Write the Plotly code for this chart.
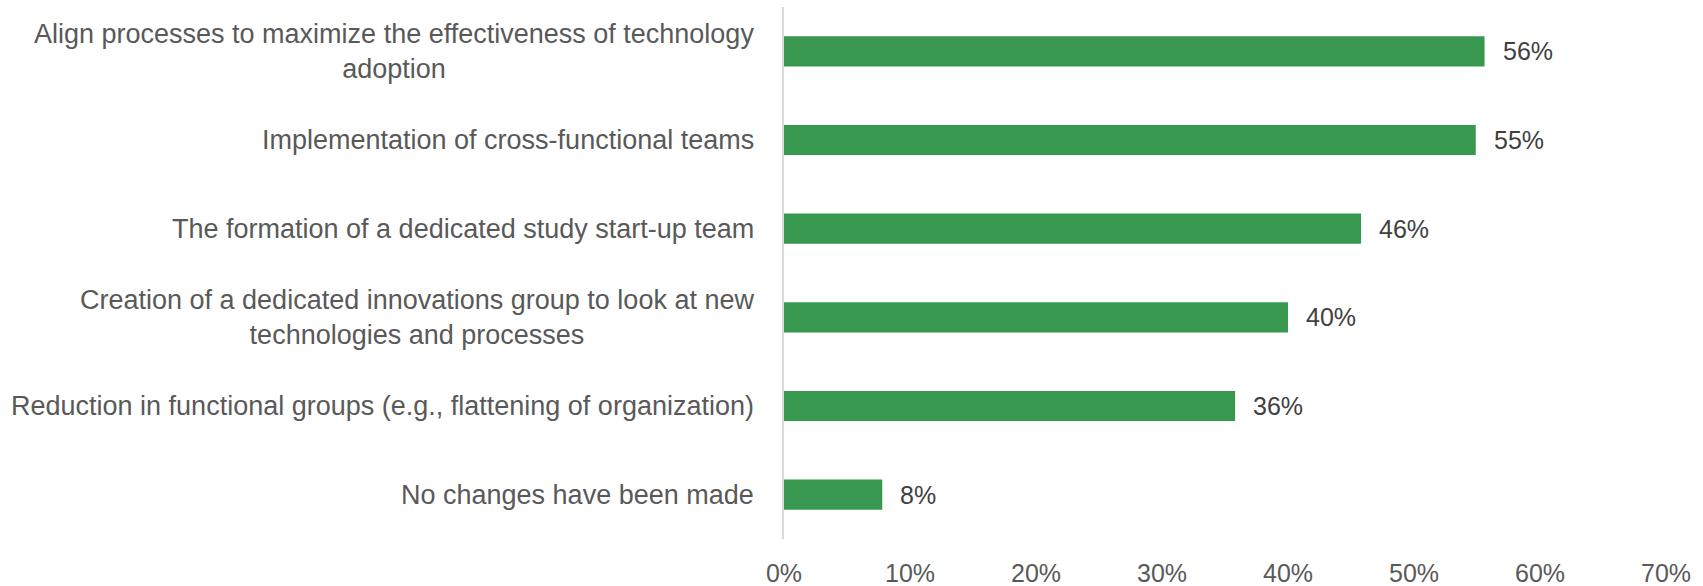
import plotly.graph_objects as go

categories = [
    "Align processes to maximize the effectiveness of technology<br>adoption",
    "Implementation of cross-functional teams",
    "The formation of a dedicated study start-up team",
    "Creation of a dedicated innovations group to look at new<br>technologies and processes",
    "Reduction in functional groups (e.g., flattening of organization)",
    "No changes have been made",
]
values = [0.556, 0.549, 0.458, 0.400, 0.358, 0.078]
x_ticks = [0, 0.1, 0.2, 0.3, 0.4, 0.5, 0.6, 0.7]
x_tick_labels = ["0%", "10%", "20%", "30%", "40%", "50%", "60%", "70%"]

FONT = "Liberation Sans, Arial, sans-serif"
BAR = "#399850"

fig = go.Figure()
fig.add_trace(go.Bar(
    x=values, y=categories, orientation="h",
    marker=dict(color=BAR, line=dict(width=0)),
    hoverinfo="skip",
))

annotations = []
for c, v in zip(categories, values):
    annotations.append(dict(
        x=0, xref="paper", y=c, yref="y", text=c, showarrow=False,
        xanchor="right", yanchor="middle", align="center", xshift=-28,
        font=dict(family=FONT, size=27, color="#595959"),
    ))
    annotations.append(dict(
        x=v, xref="x", y=c, yref="y", text=f"{round(v*100)}%", showarrow=False,
        xanchor="left", yanchor="middle", xshift=16,
        font=dict(family=FONT, size=25, color="#404040"),
    ))

fig.update_layout(
    width=1703, height=586,
    margin=dict(l=784, r=37, t=7, b=47, autoexpand=False),
    paper_bgcolor="white", plot_bgcolor="white",
    bargap=0.66,
    showlegend=False,
    annotations=annotations,
    xaxis=dict(
        range=[0, 0.7], tickvals=x_ticks, ticktext=x_tick_labels,
        showgrid=False, zeroline=False, showline=False, automargin=False,
        ticks="outside", ticklen=12, tickcolor="rgba(0,0,0,0)",
        tickfont=dict(family=FONT, size=25, color="#595959"),
    ),
    yaxis=dict(
        categoryorder="array", categoryarray=categories[::-1],
        showticklabels=False, showgrid=False, zeroline=False, automargin=False,
        showline=True, linecolor="#D9D9D9", linewidth=1.5,
    ),
)

fig.write_html(
    "out.html",
    config={"displayModeBar": False},
    post_script="document.body.style.margin='0';document.body.style.overflow='hidden';",
)
